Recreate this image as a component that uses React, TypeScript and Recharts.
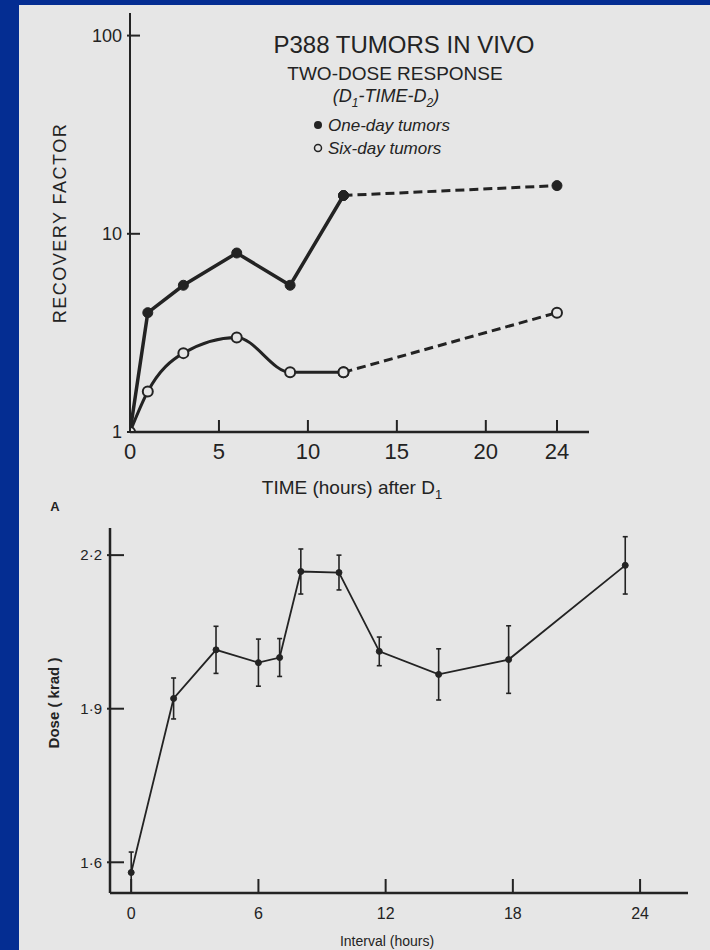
import React from "react";
import { ErrorBar, Line, LineChart, XAxis, YAxis } from "recharts";

// top panel: recovery factor vs time after first dose
const hoursTop = [0, 1, 3, 6, 9, 12, 24];
const oneDayTumors = [1, 4.0, 5.5, 8.0, 5.5, 15.6, 17.5];
const sixDayTumors = [1, 1.6, 2.5, 3.0, 2.0, 2.0, 4.0];
const solidUntilHour = 12;
const topXTicks = [0, 5, 10, 15, 20, 24];
const topYTicks = [1, 10, 100];

// bottom panel: dose vs interval
const intervalHours = [0, 2, 4, 6, 7, 8, 9.8, 11.7, 14.5, 17.8, 23.3];
const doseKrad = [1.58, 1.92, 2.015, 1.99, 2.0, 2.168, 2.166, 2.012, 1.967, 1.996, 2.18];
const doseError = [0.04, 0.04, 0.046, 0.046, 0.037, 0.044, 0.034, 0.028, 0.05, 0.066, 0.056];
const bottomXTicks = [0, 6, 12, 18, 24];
const bottomYTicks = [1.6, 1.9, 2.2];

const INK = "#232323";
const PAPER = "#e6e6e6";
const BLUE = "#042d92";
const FONT = "'Liberation Sans', Arial, sans-serif";

const topData = hoursTop.map((h, i) => ({
  h,
  oneSolid: h <= solidUntilHour ? oneDayTumors[i] : null,
  oneDash: h >= solidUntilHour ? oneDayTumors[i] : null,
  sixSolid: h <= solidUntilHour ? sixDayTumors[i] : null,
  sixDash: h >= solidUntilHour ? sixDayTumors[i] : null,
}));

const bottomData = intervalHours.map((h, i) => ({
  h,
  dose: doseKrad[i],
  err: doseError[i],
}));

function XTick(props: any) {
  const { x, y, payload, len, size, dy } = props;
  return (
    <g>
      <line x1={x} y1={y} x2={x} y2={y - len} stroke={INK} strokeWidth={2} />
      <text x={x} y={y + dy} textAnchor="middle" fontSize={size} fill={INK} fontFamily={FONT}>
        {payload.value}
      </text>
    </g>
  );
}

function YTick(props: any) {
  const { x, y, payload, len, size, fmt } = props;
  return (
    <g>
      <line x1={x - 3} y1={y} x2={x + len} y2={y} stroke={INK} strokeWidth={2} />
      <text x={x - 8} y={y} dy="0.35em" textAnchor="end" fontSize={size} fill={INK} fontFamily={FONT}>
        {fmt ? fmt(payload.value) : payload.value}
      </text>
    </g>
  );
}

const dotStr = (v: number) => String(v).replace(".", "·");

const filledDot = { r: 5, fill: INK, stroke: INK, strokeWidth: 1, strokeDasharray: "none" };
const openDot = { r: 5, fill: PAPER, stroke: INK, strokeWidth: 2, strokeDasharray: "none" };

export default function App() {
  return (
    <div
      style={{
        position: "absolute",
        left: 0,
        top: 0,
        width: 710,
        height: 950,
        background: BLUE,
        overflow: "hidden",
      }}
    >
      <div
        style={{
          position: "absolute",
          left: 19,
          top: 5,
          width: 691,
          height: 945,
          background: PAPER,
        }}
      />

      <LineChart
        width={710}
        height={500}
        data={topData}
        margin={{ top: 13, right: 121, bottom: 28, left: 70 }}
        style={{ position: "absolute", left: 0, top: 0 }}
      >
        <XAxis
          dataKey="h"
          type="number"
          domain={[0, 25.8]}
          allowDataOverflow
          ticks={topXTicks}
          height={40}
          tickSize={0}
          tickMargin={0}
          axisLine={{ stroke: INK, strokeWidth: 2.5 }}
          tick={(p: any) => <XTick {...p} len={12} size={22} dy={27} />}
        />
        <YAxis
          scale="log"
          domain={[1, 130]}
          allowDataOverflow
          ticks={topYTicks}
          width={60}
          tickSize={0}
          tickMargin={0}
          axisLine={{ stroke: INK, strokeWidth: 2 }}
          tick={(p: any) => <YTick {...p} len={10} size={18} />}
        />
        <Line
          dataKey="oneSolid"
          type="linear"
          stroke={INK}
          strokeWidth={3.5}
          dot={filledDot}
          isAnimationActive={false}
        />
        <Line
          dataKey="oneDash"
          type="linear"
          stroke={INK}
          strokeWidth={3}
          strokeDasharray="9 5"
          dot={filledDot}
          isAnimationActive={false}
        />
        <Line
          dataKey="sixSolid"
          type="monotone"
          stroke={INK}
          strokeWidth={3}
          dot={openDot}
          isAnimationActive={false}
        />
        <Line
          dataKey="sixDash"
          type="linear"
          stroke={INK}
          strokeWidth={3}
          strokeDasharray="9 5"
          dot={openDot}
          isAnimationActive={false}
        />
      </LineChart>

      <LineChart
        width={710}
        height={450}
        data={bottomData}
        margin={{ top: 28, right: 22, bottom: 17, left: 50 }}
        style={{ position: "absolute", left: 0, top: 500 }}
      >
        <XAxis
          dataKey="h"
          type="number"
          domain={[-1, 26.26]}
          allowDataOverflow
          ticks={bottomXTicks}
          height={40}
          tickSize={0}
          tickMargin={0}
          axisLine={{ stroke: INK, strokeWidth: 2.5 }}
          tick={(p: any) => <XTick {...p} len={14} size={16} dy={26} />}
        />
        <YAxis
          type="number"
          domain={[1.54, 2.253]}
          allowDataOverflow
          ticks={bottomYTicks}
          width={60}
          tickSize={0}
          tickMargin={0}
          axisLine={{ stroke: INK, strokeWidth: 2.5 }}
          tick={(p: any) => <YTick {...p} len={14} size={15} fmt={dotStr} />}
        />
        <Line
          dataKey="dose"
          type="linear"
          stroke={INK}
          strokeWidth={1.8}
          dot={{ r: 3, fill: INK, stroke: INK, strokeWidth: 1 }}
          isAnimationActive={false}
        >
          <ErrorBar dataKey="err" direction="y" width={2.5} stroke={INK} strokeWidth={1.6} />
        </Line>
      </LineChart>

      <svg
        width={710}
        height={950}
        style={{ position: "absolute", left: 0, top: 0, pointerEvents: "none" }}
        fontFamily={FONT}
        fill={INK}
      >
        <text x={404} y={45} dy="0.35em" textAnchor="middle" fontSize={24}>
          P388 TUMORS IN VIVO
        </text>
        <text x={395} y={73} dy="0.35em" textAnchor="middle" fontSize={19}>
          TWO-DOSE RESPONSE
        </text>
        <text x={386} y={96} dy="0.35em" textAnchor="middle" fontSize={18} fontStyle="italic">
          (D<tspan fontSize={12} dy={5}>1</tspan>
          <tspan dy={-5}>-TIME-D</tspan>
          <tspan fontSize={12} dy={5}>2</tspan>
          <tspan dy={-5}>)</tspan>
        </text>
        <circle cx={318} cy={125} r={4} fill={INK} />
        <text x={328} y={125} dy="0.35em" fontSize={17} fontStyle="italic">
          One-day tumors
        </text>
        <circle cx={318} cy={148} r={3.5} fill="none" stroke={INK} strokeWidth={1.5} />
        <text x={328} y={148} dy="0.35em" fontSize={17} fontStyle="italic">
          Six-day tumors
        </text>

        <text
          transform="translate(60,223) rotate(-90)"
          dy="0.35em"
          textAnchor="middle"
          fontSize={18}
          letterSpacing={1.5}
        >
          RECOVERY  FACTOR
        </text>
        <text x={352} y={487} dy="0.35em" textAnchor="middle" fontSize={19}>
          TIME (hours) after D<tspan fontSize={13} dy={5}>1</tspan>
        </text>

        <text x={55} y={506} dy="0.35em" textAnchor="middle" fontSize={13} fontWeight="bold">
          A
        </text>
        <text
          transform="translate(54,703) rotate(-90)"
          dy="0.35em"
          textAnchor="middle"
          fontSize={15}
          fontWeight="bold"
        >
          Dose ( krad )
        </text>
        <text x={387} y={941} dy="0.35em" textAnchor="middle" fontSize={14}>
          Interval (hours)
        </text>
      </svg>
    </div>
  );
}
